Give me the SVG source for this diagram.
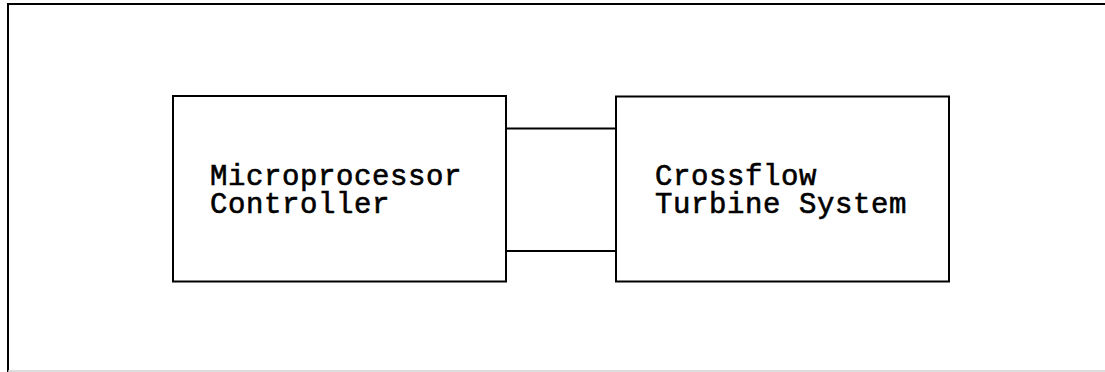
<svg xmlns="http://www.w3.org/2000/svg" width="1105" height="372" viewBox="0 0 1105 372">
<style>
.box{fill:#fff;stroke:#000;stroke-width:2}
.ln{fill:none;stroke:#000;stroke-width:2}
.t{font-family:"Liberation Mono","Courier New",monospace;font-size:29px;letter-spacing:0.6px;fill:#000;stroke:#000;stroke-width:0.6}
</style>
<rect width="1105" height="372" fill="#fff"/>
<g id="frame">
<path class="ln" d="M8,372 V4 H1105"/>
<path d="M8,371 H1105" fill="none" stroke="#d0d0d0" stroke-width="1.5"/>
</g>
<g id="connectors">
<path class="ln" d="M506,128.5 H616"/>
<path class="ln" d="M506,251 H616"/>
</g>
<g id="controller">
<rect class="box" x="173" y="96" width="333" height="185.5"/>
<text class="t" x="210" y="185">Microprocessor</text>
<text class="t" x="210" y="213">Controller</text>
</g>
<g id="turbine">
<rect class="box" x="616" y="96.5" width="333" height="185"/>
<text class="t" x="655" y="185">Crossflow</text>
<text class="t" x="655" y="213">Turbine System</text>
</g>
</svg>
